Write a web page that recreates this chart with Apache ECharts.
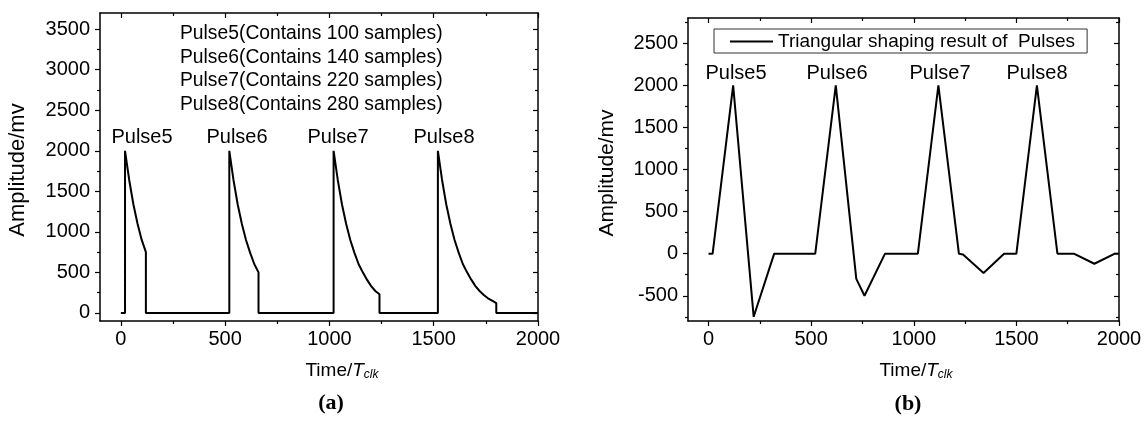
<!DOCTYPE html>
<html><head><meta charset="utf-8">
<script src="https://cdn.jsdelivr.net/npm/echarts@6/dist/echarts.min.js"></script>
<style>html,body{margin:0;padding:0;background:#fff}#c{width:1145px;height:423px}</style>
</head><body><div id="c"></div>
<script>
const FONT = "'Liberation Sans', Arial, sans-serif";

// ---- Panel (a): exponential pulses (time, amplitude) ----
const aTime = [0, 20, 20, 40, 60, 80, 100, 120, 120,
  520, 520, 540, 560, 580, 600, 620, 640, 660, 660,
  1020, 1020, 1040, 1060, 1080, 1100, 1120, 1140, 1160, 1180, 1200, 1220, 1240, 1240,
  1520, 1520, 1540, 1560, 1580, 1600, 1620, 1640, 1660, 1680, 1700, 1720, 1740, 1760, 1780, 1800, 1800,
  2000];
const aAmp = [0, 0, 2000, 1640, 1340, 1100, 900, 750, 0,
  0, 2000, 1640, 1340, 1100, 900, 740, 600, 500, 0,
  0, 2000, 1640, 1340, 1100, 900, 740, 600, 500, 410, 330, 270, 230, 0,
  0, 2000, 1640, 1340, 1100, 900, 740, 600, 500, 410, 330, 270, 220, 180, 150, 120, 0,
  0];

// ---- Panel (b): triangular shaping result ----
const bTime = [0, 20, 120, 220, 320, 520, 620, 720, 760, 860, 1020, 1120, 1220, 1240, 1340, 1440, 1500, 1600, 1700, 1780, 1880, 1980, 2000];
const bAmp  = [0, 0, 2000, -750, 0, 0, 2000, -300, -500, 0, 0, 2000, 0, -10, -230, 0, 0, 2000, 0, 0, -120, 0, 0];

// ---- tick values ----
const xMajor = [0, 500, 1000, 1500, 2000];
const xMinor = [250, 750, 1250, 1750];
const aYMajor = [0, 500, 1000, 1500, 2000, 2500, 3000, 3500];
const aYMinor = [250, 750, 1250, 1750, 2250, 2750, 3250];
const bYMajor = [-500, 0, 500, 1000, 1500, 2000, 2500];
const bYMinor = [-750, -250, 250, 750, 1250, 1750, 2250, 2750];

// ---- texts ----
const pulseNames = ['Pulse5', 'Pulse6', 'Pulse7', 'Pulse8'];
const sampleNotes = ['Pulse5(Contains 100 samples)', 'Pulse6(Contains 140 samples)',
                     'Pulse7(Contains 220 samples)', 'Pulse8(Contains 280 samples)'];
const legendName = 'Triangular shaping result of  Pulses';

const AX = '#000';
function axis(grid, pos, min, max, ticks, len, inside, labels, line) {
  return {
    type: 'value', gridIndex: grid, position: pos, min: min, max: max,
    splitLine: {show: false},
    axisLine: {show: line, onZero: false, lineStyle: {color: AX, width: 1.5}},
    axisTick: {show: true, inside: inside, length: len, customValues: ticks, lineStyle: {color: AX, width: 1.2}},
    axisLabel: labels ? {show: true, customValues: labels, color: '#000', fontFamily: FONT, fontSize: 20,
                         margin: pos === 'left' ? 10 : 8, formatter: v => String(v)}
                      : {show: false}
  };
}
function axesFor(dim, grid, min, max, major, minor) {
  const a = dim === 'x' ? ['bottom', 'top'] : ['left', 'right'];
  return [
    axis(grid, a[0], min, max, major, 5, false, major, true),
    axis(grid, a[0], min, max, minor, 3, false, null, false),
    axis(grid, a[1], min, max, major, 5, true, null, true),
    axis(grid, a[1], min, max, minor, 3, true, null, false)
  ];
}

const xAxes = axesFor('x', 0, -100, 2000, xMajor, xMinor).concat(axesFor('x', 1, -100, 2000, xMajor, xMinor));
const yAxes = axesFor('y', 0, -100, 3700, aYMajor, aYMinor).concat(axesFor('y', 1, -800, 2800, bYMajor, bYMinor));

const graphics = [];
function txt(x, y, text, opt) {
  graphics.push(Object.assign({
    type: 'text', x: x, y: y,
    style: Object.assign({text: text, fill: '#000', font: '19px ' + FONT, textAlign: 'center', textVerticalAlign: 'middle',
                          align: 'center', verticalAlign: 'middle'}, opt && opt.style || {})
  }, opt && opt.el || {}));
}
// pulse labels
const aPulseX = [142, 237, 338, 444];
const bPulseX = [736, 837, 940, 1037];
pulseNames.forEach((n, i) => { txt(aPulseX[i], 137, n, {style: {font: '20px ' + FONT}}); txt(bPulseX[i], 73, n, {style: {font: '20px ' + FONT}}); });
// sample notes
sampleNotes.forEach((n, i) => txt(180, 34 + i * 23.5, n, {style: {textAlign: 'left', align: 'left', font: '19.3px ' + FONT}}));
// y titles
txt(18, 170, 'Amplitude/mv', {style: {font: '22px ' + FONT}, el: {rotation: Math.PI / 2}});
txt(607, 173, 'Amplitude/mv', {style: {font: '21px ' + FONT}, el: {rotation: Math.PI / 2}});
// x titles
const xTitleRich = {
  n: {fontFamily: FONT, fontSize: 19, fill: '#000', color: '#000'},
  i: {fontFamily: FONT, fontSize: 19, fontStyle: 'italic', fill: '#000', color: '#000'},
  s: {fontFamily: FONT, fontSize: 12, fontStyle: 'italic', fill: '#000', color: '#000', padding: [8, 0, 0, 0]}
};
[[342, 371], [916, 371]].forEach(p => txt(p[0], p[1], '{n|Time/}{i|T}{s|clk}', {style: {rich: xTitleRich}}));
txt(331, 403, '(a)', {style: {font: "bold 22px 'Liberation Serif', 'Times New Roman', serif"}});
txt(908, 404, '(b)', {style: {font: "bold 22px 'Liberation Serif', 'Times New Roman', serif"}});

const chart = echarts.init(document.getElementById('c'), null, {renderer: 'canvas'});
chart.setOption({
  animation: false,
  backgroundColor: '#fff',
  grid: [
    {left: 100, top: 13, width: 438, height: 308},
    {left: 688, top: 18, width: 431, height: 303}
  ],
  xAxis: xAxes,
  yAxis: yAxes,
  legend: {
    data: [{name: legendName, icon: 'rect'}], left: 714, top: 29, orient: 'horizontal',
    padding: [3, 12, 2, 16], itemWidth: 43, itemHeight: 2,
    borderColor: '#333', borderWidth: 1,
    textStyle: {color: '#000', fontFamily: FONT, fontSize: 19}
  },
  series: [
    {type: 'line', name: 'Pulses', xAxisIndex: 0, yAxisIndex: 0, symbol: 'none',
     lineStyle: {color: '#000', width: 2}, itemStyle: {color: '#000'},
     data: aTime.map((t, i) => [t, aAmp[i]])},
    {type: 'line', name: legendName, xAxisIndex: 4, yAxisIndex: 4, symbol: 'none',
     lineStyle: {color: '#000', width: 2}, itemStyle: {color: '#000'},
     data: bTime.map((t, i) => [t, bAmp[i]])}
  ],
  graphic: graphics
});
</script></body></html>
